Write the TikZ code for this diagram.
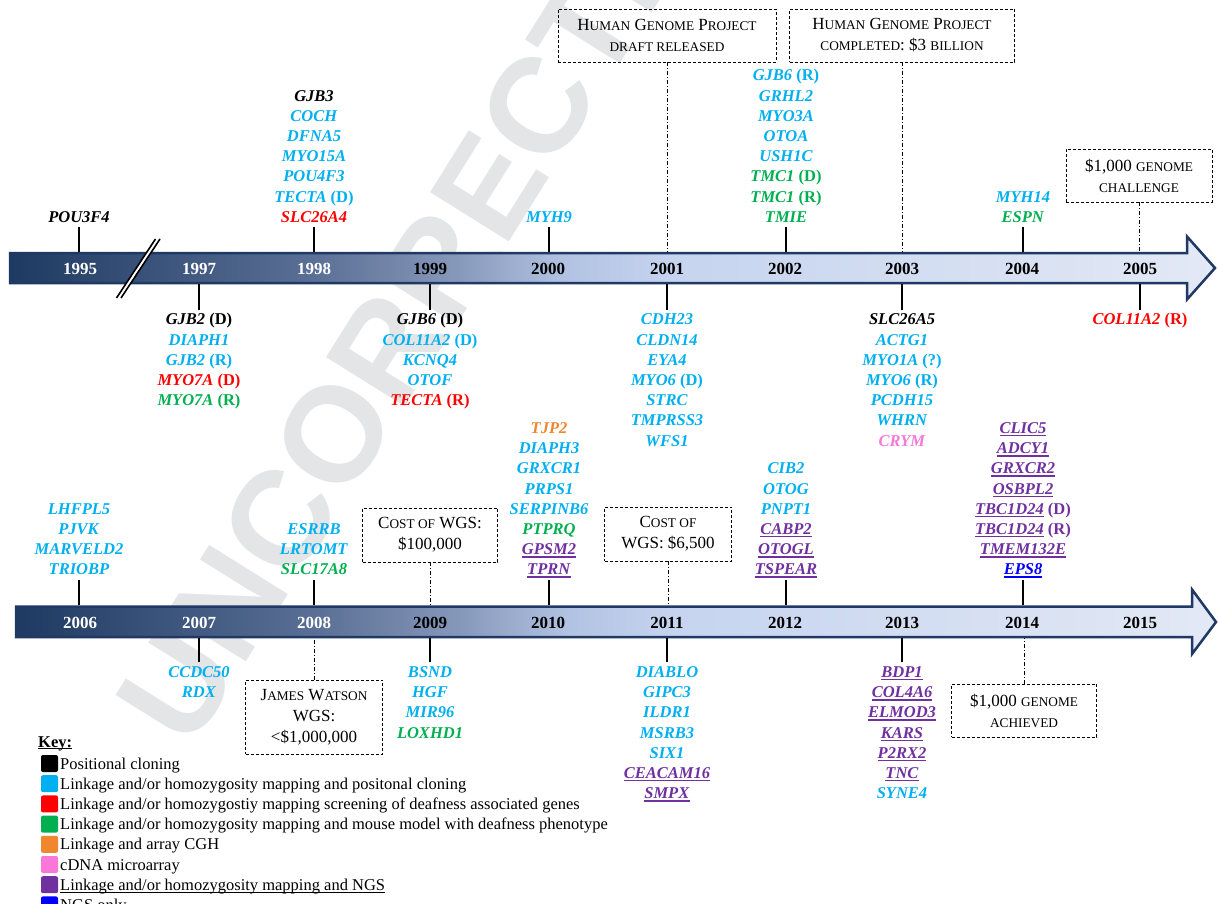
\documentclass[tikz,border=0pt]{standalone}
\usepackage{fontspec}
\setmainfont{Liberation Serif}
\newfontfamily\wmfont{Liberation Sans}
\definecolor{cy}{HTML}{00B0F0}
\definecolor{rd}{HTML}{FF0000}
\definecolor{gn}{HTML}{00B050}
\definecolor{og}{HTML}{F0862E}
\definecolor{pk}{HTML}{F877D9}
\definecolor{pu}{HTML}{7030A0}
\definecolor{bl}{HTML}{0000FF}
\definecolor{navy}{HTML}{1F3864}
\definecolor{wmc}{HTML}{E4E5E7}
\definecolor{s0}{HTML}{1E3A62}
\definecolor{s1}{HTML}{5A6F95}
\definecolor{s2}{HTML}{8698BA}
\definecolor{s3}{HTML}{B2C2E2}
\definecolor{s4}{HTML}{C6D4EF}
\definecolor{s5}{HTML}{E3E9F5}
% the path's bounding box is mapped onto 25bp..75bp of the shading
\pgfdeclarehorizontalshading{barshade}{100bp}{color(0bp)=(s0); color(25bp)=(s0); color(37.5bp)=(s1); color(43.5bp)=(s2); color(48bp)=(s3); color(52.5bp)=(s4); color(75bp)=(s5); color(100bp)=(s5)}
\newsavebox\ulb
\newcommand\ulx[3]{\sbox\ulb{#3}\rlap{\rule[#1]{\wd\ulb}{#2}}\usebox\ulb}
\newcommand\gstrut{\rule[-5pt]{0pt}{20.2pt}}
\newcommand\gx[3][]{\textcolor{#2}{\gstrut\textit{#3}#1}}
\newcommand\gxu[3][]{\textcolor{#2}{\gstrut\ulx{-3pt}{1.4pt}{\textit{#3}}#1}}
\newcommand\sm[1]{{\fontsize{13.3}{16}\selectfont #1}}
\begin{document}
\begin{tikzpicture}[x=1pt,y=-1pt,
  glist/.style={align=center, inner sep=0pt, font=\fontsize{16.5}{20.2}\selectfont\bfseries},
  gup/.style={glist, anchor=south},
  gdn/.style={glist, anchor=north},
  yr/.style={inner sep=0pt, anchor=base, font=\fontsize{17}{20}\selectfont\bfseries},
  yrw/.style={yr, text=white},
  tk/.style={line width=2.8pt},
  dd/.style={line width=0.9pt, dash pattern=on 4pt off 2pt on 1pt off 2pt},
  note/.style={draw, line width=0.9pt, dash pattern=on 3pt off 2pt, align=center, inner sep=0pt, font=\fontsize{17}{21}\selectfont},
  keysq/.style={rounded corners=2pt, minimum width=17pt, minimum height=17pt, inner sep=0pt},
  keytx/.style={anchor=base west, inner sep=0pt, font=\fontsize{16.5}{20}\selectfont}
]
\clip (0,0) rectangle (1218,904);
\fill[white] (0,0) rectangle (1218,904);
% watermark
\node[text=wmc, rotate=58, anchor=base west, inner sep=0pt, font=\wmfont\bfseries\fontsize{135}{135}\selectfont] (wm) at (190,752) {UNCORRECTED PROOF};
% bars
\shadedraw[shading=barshade, draw=navy, line width=2.5pt, line join=miter] (10,253) -- (1187,253) -- (1187,236.5) -- (1215,268) -- (1187,299.5) -- (1187,283) -- (10,283) -- cycle;
\shadedraw[shading=barshade, draw=navy, line width=2.5pt, line join=miter] (16,606.5) -- (1192,606.5) -- (1192,589.5) -- (1216,622) -- (1192,654) -- (1192,637) -- (16,637) -- cycle;
\coordinate (At) at (0,252);
\coordinate (Ab) at (0,284);
\coordinate (Bt) at (0,605);
\coordinate (Bb) at (0,638);
% break mark
\draw[white, line width=3pt] (118.75,298) -- (157.75,239);
\draw[line width=1.6pt] (116.5,298) -- (155.5,239);
\draw[line width=1.6pt] (121,298) -- (160,239);
% years top
\node[yrw] (y1995) at (80,274) {1995};
\node[yrw] (y1997) at (199,274) {1997};
\node[yrw] (y1998) at (314,274) {1998};
\node[yr] (y1999) at (430,274) {1999};
\node[yr] (y2000) at (548,274) {2000};
\node[yr] (y2001) at (667,274) {2001};
\node[yr] (y2002) at (785,274) {2002};
\node[yr] (y2003) at (902,274) {2003};
\node[yr] (y2004) at (1022,274) {2004};
\node[yr] (y2005) at (1140,274) {2005};
% years bottom
\node[yrw] (y2006) at (80,628) {2006};
\node[yrw] (y2007) at (199,628) {2007};
\node[yrw] (y2008) at (314,628) {2008};
\node[yr] (y2009) at (430,628) {2009};
\node[yr] (y2010) at (548,628) {2010};
\node[yr] (y2011) at (667,628) {2011};
\node[yr] (y2012) at (785,628) {2012};
\node[yr] (y2013) at (902,628) {2013};
\node[yr] (y2014) at (1022,628) {2014};
\node[yr] (y2015) at (1140,628) {2015};
% genes top bar, above
\node[gup] (g1995) at (79,227.5) {\gx{black}{POU3F4}};
\node[gup] (g1998) at (314,227.5) {\gx{black}{GJB3}\\\gx{cy}{COCH}\\\gx{cy}{DFNA5}\\\gx{cy}{MYO15A}\\\gx{cy}{POU4F3}\\\gx[\ (D)]{cy}{TECTA}\\\gx{rd}{SLC26A4}};
\node[gup] (g2000) at (549,227.5) {\gx{cy}{MYH9}};
\node[gup] (g2002) at (786,227.5) {\gx[\ (R)]{cy}{GJB6}\\\gx{cy}{GRHL2}\\\gx{cy}{MYO3A}\\\gx{cy}{OTOA}\\\gx{cy}{USH1C}\\\gx[\ (D)]{gn}{TMC1}\\\gx[\ (R)]{gn}{TMC1}\\\gx{gn}{TMIE}};
\node[gup] (g2004) at (1023,227.5) {\gx{cy}{MYH14}\\\gx{gn}{ESPN}};
\foreach \n in {g1995,g1998,g2000,g2002,g2004} \draw[tk] (\n.south) -- (\n.south |- At);
% genes top bar, below
\node[gdn] (g1997) at (199,309.5) {\gx[\ (D)]{black}{GJB2}\\\gx{cy}{DIAPH1}\\\gx[\ (R)]{cy}{GJB2}\\\gx[\ (D)]{rd}{MYO7A}\\\gx[\ (R)]{gn}{MYO7A}};
\node[gdn] (g1999) at (430,309.5) {\gx[\ (D)]{black}{GJB6}\\\gx[\ (D)]{cy}{COL11A2}\\\gx{cy}{KCNQ4}\\\gx{cy}{OTOF}\\\gx[\ (R)]{rd}{TECTA}};
\node[gdn] (g2001) at (667,309.5) {\gx{cy}{CDH23}\\\gx{cy}{CLDN14}\\\gx{cy}{EYA4}\\\gx[\ (D)]{cy}{MYO6}\\\gx{cy}{STRC}\\\gx{cy}{TMPRSS3}\\\gx{cy}{WFS1}};
\node[gdn] (g2003) at (902,309.5) {\gx{black}{SLC26A5}\\\gx{cy}{ACTG1}\\\gx[\ (?)]{cy}{MYO1A}\\\gx[\ (R)]{cy}{MYO6}\\\gx{cy}{PCDH15}\\\gx{cy}{WHRN}\\\gx{pk}{CRYM}};
\node[gdn] (g2005) at (1140,309.5) {\gx[\ (R)]{rd}{COL11A2}};
\foreach \n in {g1997,g1999,g2001,g2003,g2005} \draw[tk] (\n.north) -- (\n.north |- Ab);
% genes bottom bar, above
\node[gup] (g2006) at (79,580) {\gx{cy}{LHFPL5}\\\gx{cy}{PJVK}\\\gx{cy}{MARVELD2}\\\gx{cy}{TRIOBP}};
\node[gup] (g2008) at (314,580) {\gx{cy}{ESRRB}\\\gx{cy}{LRTOMT}\\\gx{gn}{SLC17A8}};
\node[gup] (g2010) at (549,580) {\gx{og}{TJP2}\\\gx{cy}{DIAPH3}\\\gx{cy}{GRXCR1}\\\gx{cy}{PRPS1}\\\gx{cy}{SERPINB6}\\\gx{gn}{PTPRQ}\\\gxu{pu}{GPSM2}\\\gxu{pu}{TPRN}};
\node[gup] (g2012) at (786,580) {\gx{cy}{CIB2}\\\gx{cy}{OTOG}\\\gx{cy}{PNPT1}\\\gxu{pu}{CABP2}\\\gxu{pu}{OTOGL}\\\gxu{pu}{TSPEAR}};
\node[gup] (g2014) at (1023,580) {\gxu{pu}{CLIC5}\\\gxu{pu}{ADCY1}\\\gxu{pu}{GRXCR2}\\\gxu{pu}{OSBPL2}\\\gxu[\ (D)]{pu}{TBC1D24}\\\gxu[\ (R)]{pu}{TBC1D24}\\\gxu{pu}{TMEM132E}\\\gxu{bl}{EPS8}};
\foreach \n in {g2006,g2008,g2010,g2012,g2014} \draw[tk] (\n.south) -- (\n.south |- Bt);
% genes bottom bar, below
\node[gdn] (g2007) at (199,662) {\gx{cy}{CCDC50}\\\gx{cy}{RDX}};
\node[gdn] (g2009) at (430,662) {\gx{cy}{BSND}\\\gx{cy}{HGF}\\\gx{cy}{MIR96}\\\gx{gn}{LOXHD1}};
\node[gdn] (g2011) at (667,662) {\gx{cy}{DIABLO}\\\gx{cy}{GIPC3}\\\gx{cy}{ILDR1}\\\gx{cy}{MSRB3}\\\gx{cy}{SIX1}\\\gxu{pu}{CEACAM16}\\\gxu{pu}{SMPX}};
\node[gdn] (g2013) at (902,662) {\gxu{pu}{BDP1}\\\gxu{pu}{COL4A6}\\\gxu{pu}{ELMOD3}\\\gxu{pu}{KARS}\\\gxu{pu}{P2RX2}\\\gxu{pu}{TNC}\\\gx{cy}{SYNE4}};
\foreach \n in {g2007,g2009,g2011,g2013} \draw[tk] (\n.north) -- (\n.north |- Bb);
% milestone boxes
\node[note, minimum width=218pt, minimum height=53pt] (hgp1) at (667,35.5) {H\sm{UMAN} G\sm{ENOME} P\sm{ROJECT}\\\sm{DRAFT RELEASED}};
\node[note, minimum width=225pt, minimum height=53pt] (hgp2) at (902,35.5) {H\sm{UMAN} G\sm{ENOME} P\sm{ROJECT}\\\sm{COMPLETED}: \$3 \sm{BILLION}};
\node[note, minimum width=146pt, minimum height=53pt] (chal) at (1139,175.5) {\$1,000 \sm{GENOME}\\\sm{CHALLENGE}};
\node[note, minimum width=135pt, minimum height=54pt] (wgs1) at (430,535) {C\sm{OST OF} WGS:\\\$100,000};
\node[note, minimum width=127pt, minimum height=54pt] (wgs2) at (668,534) {C\sm{OST OF}\\WGS: \$6,500};
\node[note, minimum width=137pt, minimum height=74pt] (jw) at (314,717) {J\sm{AMES} W\sm{ATSON}\\WGS:\\<\$1,000,000};
\node[note, minimum width=145pt, minimum height=53pt] (ach) at (1024,710.5) {\$1,000 \sm{GENOME}\\\sm{ACHIEVED}};
\foreach \n in {hgp1,hgp2,chal} \draw[dd] (\n.south) -- (\n.south |- At);
\foreach \n in {wgs1,wgs2} \draw[dd] (\n.south) -- (\n.south |- Bt);
\foreach \n in {jw,ach} \draw[dd] (\n.north) -- (\n.north |- Bb);
% key
\node[anchor=base west, inner sep=0pt, font=\fontsize{16.5}{20}\selectfont\bfseries] (key) at (38,747) {\ulx{-2.4pt}{1.1pt}{Key:}};
\node[keysq, fill=black] (k1) at (49.5,763.5) {};
\node[keytx] (t1) at (60,769) {Positional cloning};
\node[keysq, fill=cy] (k2) at (49.5,783.7) {};
\node[keytx] (t2) at (60,789.2) {Linkage and/or homozygosity mapping and positonal cloning};
\node[keysq, fill=rd] (k3) at (49.5,803.9) {};
\node[keytx] (t3) at (60,809.4) {Linkage and/or homozygostiy mapping screening of deafness associated genes};
\node[keysq, fill=gn] (k4) at (49.5,824.1) {};
\node[keytx] (t4) at (60,829.6) {Linkage and/or homozygosity mapping and mouse model with deafness phenotype};
\node[keysq, fill=og] (k5) at (49.5,844.3) {};
\node[keytx] (t5) at (60,849.8) {Linkage and array CGH};
\node[keysq, fill=pk] (k6) at (49.5,864.5) {};
\node[keytx] (t6) at (60,870) {cDNA microarray};
\node[keysq, fill=pu] (k7) at (49.5,884.7) {};
\node[keytx] (t7) at (60,890.2) {\ulx{-2.5pt}{0.8pt}{Linkage and/or homozygosity mapping and NGS}};
\node[keysq, fill=bl] (k8) at (49.5,904.9) {};
\node[keytx] (t8) at (60,910.4) {NGS only};
\end{tikzpicture}
\end{document}
